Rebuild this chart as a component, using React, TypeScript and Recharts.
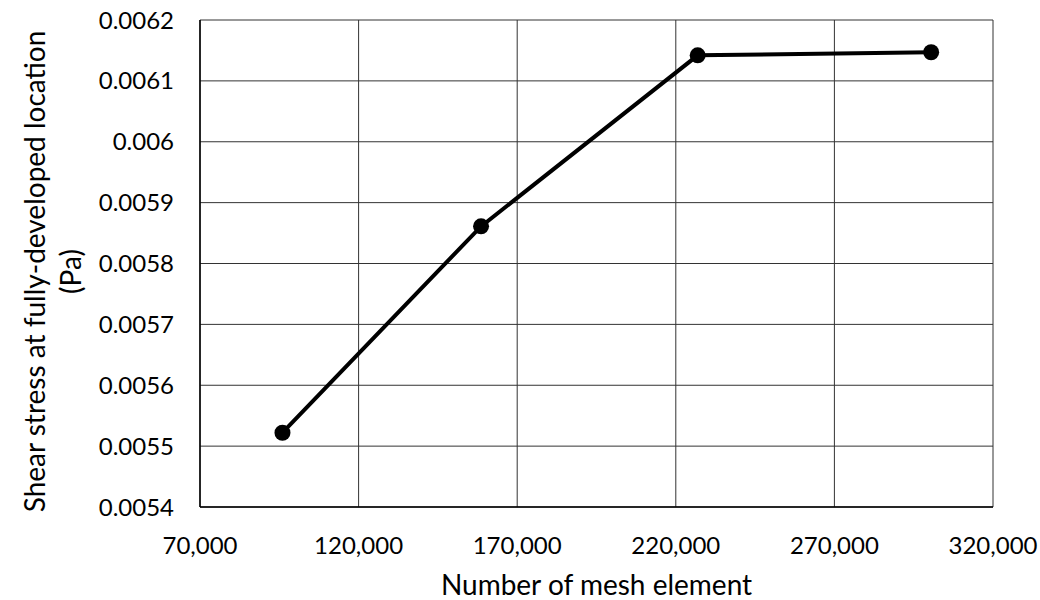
import * as React from "react";
import { LineChart, Line, XAxis, YAxis, CartesianGrid, Label } from "recharts";

// ── Data ────────────────────────────────────────────────────────────────
const meshElements = [96000, 158600, 226900, 300500];
const shearStress = [0.005522, 0.005861, 0.006142, 0.006147];

const xTicks = [70000, 120000, 170000, 220000, 270000, 320000];
const yTicks = [0.0054, 0.0055, 0.0056, 0.0057, 0.0058, 0.0059, 0.006, 0.0061, 0.0062];

const data = meshElements.map((x, i) => ({ x, y: shearStress[i] }));

const FONT = "Lato, 'Open Sans', sans-serif";

function YTitle({ viewBox }: { viewBox?: { x: number; y: number; width: number; height: number } }) {
  if (!viewBox) return null;
  const cy = viewBox.y + viewBox.height / 2 + 8;
  return (
    <g>
      <text x={34} y={cy} transform={`rotate(-90, 34, ${cy})`} textAnchor="middle" dominantBaseline="central" fontSize={28} fill="#000" fontFamily={FONT}>
        Shear stress at fully-developed location
      </text>
      <text x={70} y={cy} transform={`rotate(-90, 70, ${cy})`} textAnchor="middle" dominantBaseline="central" fontSize={28} fill="#000" fontFamily={FONT}>
        (Pa)
      </text>
    </g>
  );
}

export default function App() {
  return (
    <div style={{ position: "absolute", left: 0, top: 0, width: 1040, height: 600, background: "#fff" }}>
      <LineChart width={1040} height={600} data={data} margin={{ top: 20, right: 47, bottom: 0, left: 0 }}>
        <CartesianGrid stroke="#333" strokeWidth={1} horizontalValues={yTicks} verticalValues={xTicks} />
        <XAxis
          dataKey="x"
          type="number"
          domain={[70000, 320000]}
          ticks={xTicks}
          tickFormatter={(v: number) => v.toLocaleString("en-US")}
          axisLine={{ stroke: "#000", strokeWidth: 1.5 }}
          tickLine={false}
          tick={{ fill: "#000", fontSize: 24, fontFamily: FONT }}
          tickMargin={24}
          height={93}
          interval={0}
        >
          <Label value="Number of mesh element" position="insideBottom" offset={5} fill="#000" fontSize={28} fontFamily={FONT} />
        </XAxis>
        <YAxis
          dataKey="y"
          type="number"
          domain={[0.0054, 0.0062]}
          ticks={yTicks}
          tickFormatter={(v: number) => String(Number(v.toFixed(4)))}
          axisLine={{ stroke: "#000", strokeWidth: 1.5 }}
          tickLine={false}
          tick={{ fill: "#000", fontSize: 24, fontFamily: FONT }}
          tickMargin={20}
          width={200}
          interval={0}
        >
          <Label content={<YTitle />} />
        </YAxis>
        <Line
          dataKey="y"
          stroke="#000"
          strokeWidth={4}
          dot={{ r: 8, fill: "#000", stroke: "#000", strokeWidth: 0 }}
          activeDot={false}
          isAnimationActive={false}
        />
      </LineChart>
    </div>
  );
}
